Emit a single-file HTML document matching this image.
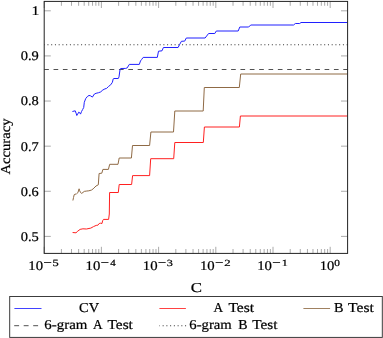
<!DOCTYPE html>
<html><head><meta charset="utf-8"><style>
html,body{margin:0;padding:0;background:#fff;width:383px;height:338px;overflow:hidden}
svg{display:block}
.t{font-family:"Liberation Serif",serif;fill:#000;stroke:#000;stroke-width:0.22px;text-rendering:geometricPrecision}
svg{will-change:transform}
.s{font-size:9.52px}
</style></head><body>
<svg width="383" height="338" viewBox="0 0 383 338">
<clipPath id="c"><rect x="44.2" y="1.4" width="303.40000000000003" height="252.0"/></clipPath>
<line x1="44.2" y1="44.8" x2="347.6" y2="44.8" stroke="#333" stroke-width="1.1" stroke-dasharray="1.0 2.74" stroke-dashoffset="0.5" />
<line x1="44.2" y1="69.5" x2="347.6" y2="69.5" stroke="#333" stroke-width="0.85" stroke-dasharray="4.673 4.673" />
<g clip-path="url(#c)" fill="none" stroke-width="1.0" stroke-linejoin="round">
<polyline points="72.9,200.5 73.5,197.6 74.2,194.7 75.2,194.0 76.1,194.4 77.1,193.4 78.1,192.1 79.1,188.8 79.7,190.8 80.7,192.7 81.7,193.4 83.0,192.4 84.3,191.4 86.2,191.1 88.8,190.8 91.4,190.1 93.1,188.9 96.0,186.0 98.3,184.8 99.1,173.5 101.8,173.2 102.9,169.4 108.4,169.4 109.7,164.3 118.0,164.3 119.2,158.0 131.4,158.0 132.5,145.5 149.6,145.5 150.9,132.0 173.5,132.0 174.8,111.0 203.2,111.0 204.3,87.5 239.3,87.5 240.7,74.0 347.6,74.0" stroke="#8f6a45"/>
<polyline points="72.6,232.5 76.0,232.8 77.8,231.1 80.1,229.4 82.9,228.8 86.4,229.0 90.8,228.1 93.5,226.6 96.2,225.4 97.9,225.2 99.2,223.5 100.6,223.2 102.0,223.5 102.6,220.8 103.5,219.4 108.6,219.4 109.3,214.0 109.6,192.5 118.3,192.5 119.2,184.5 131.6,184.5 132.6,175.6 149.6,175.6 150.7,158.7 173.7,158.7 174.8,142.5 203.3,142.5 204.4,127.0 239.4,127.0 240.4,116.0 347.6,116.0" stroke="#ff2020"/>
<polyline points="72.4,111.5 75.2,110.8 76.1,113.2 76.8,115.5 77.7,114.1 78.7,112.2 79.6,112.5 80.5,114.1 81.5,111.6 82.7,109.4 83.7,107.5 84.3,102.3 85.7,98.6 87.3,96.6 89.0,95.4 90.7,95.9 92.4,97.1 94.4,94.0 96.1,93.3 98.6,92.7 100.7,91.9 102.8,90.0 104.9,88.9 106.6,88.4 108.6,86.4 110.7,84.8 112.4,82.3 113.2,78.9 113.7,78.5 118.3,78.5 119.0,76.9 120.1,69.1 120.8,68.5 125.7,68.4 127.2,67.9 129.3,64.4 139.3,64.4 140.5,60.9 141.7,59.4 143.2,57.4 157.3,57.4 158.5,51.2 162.0,50.8 163.4,47.5 178.1,47.5 179.5,44.7 181.4,41.3 184.7,41.1 186.3,38.0 205.1,38.0 208.6,33.5 214.8,33.5 216.3,31.0 238.2,31.0 239.8,27.0 248.7,27.0 250.7,25.0 293.5,25.0 295.4,23.5 299.7,23.5 301.0,22.5 347.6,22.5" stroke="#2020ff"/>
</g>
<path d="M44.20 253.4v-6.6M44.20 1.4v6.6M61.42 253.4v-4.4M61.42 1.4v4.4M71.49 253.4v-4.4M71.49 1.4v4.4M78.64 253.4v-4.4M78.64 1.4v4.4M84.18 253.4v-4.4M84.18 1.4v4.4M88.71 253.4v-4.4M88.71 1.4v4.4M92.54 253.4v-4.4M92.54 1.4v4.4M95.86 253.4v-4.4M95.86 1.4v4.4M98.78 253.4v-4.4M98.78 1.4v4.4M101.40 253.4v-6.6M101.40 1.4v6.6M118.62 253.4v-4.4M118.62 1.4v4.4M128.69 253.4v-4.4M128.69 1.4v4.4M135.84 253.4v-4.4M135.84 1.4v4.4M141.38 253.4v-4.4M141.38 1.4v4.4M145.91 253.4v-4.4M145.91 1.4v4.4M149.74 253.4v-4.4M149.74 1.4v4.4M153.06 253.4v-4.4M153.06 1.4v4.4M155.98 253.4v-4.4M155.98 1.4v4.4M158.60 253.4v-6.6M158.60 1.4v6.6M175.82 253.4v-4.4M175.82 1.4v4.4M185.89 253.4v-4.4M185.89 1.4v4.4M193.04 253.4v-4.4M193.04 1.4v4.4M198.58 253.4v-4.4M198.58 1.4v4.4M203.11 253.4v-4.4M203.11 1.4v4.4M206.94 253.4v-4.4M206.94 1.4v4.4M210.26 253.4v-4.4M210.26 1.4v4.4M213.18 253.4v-4.4M213.18 1.4v4.4M215.80 253.4v-6.6M215.80 1.4v6.6M233.02 253.4v-4.4M233.02 1.4v4.4M243.09 253.4v-4.4M243.09 1.4v4.4M250.24 253.4v-4.4M250.24 1.4v4.4M255.78 253.4v-4.4M255.78 1.4v4.4M260.31 253.4v-4.4M260.31 1.4v4.4M264.14 253.4v-4.4M264.14 1.4v4.4M267.46 253.4v-4.4M267.46 1.4v4.4M270.38 253.4v-4.4M270.38 1.4v4.4M273.00 253.4v-6.6M273.00 1.4v6.6M290.22 253.4v-4.4M290.22 1.4v4.4M300.29 253.4v-4.4M300.29 1.4v4.4M307.44 253.4v-4.4M307.44 1.4v4.4M312.98 253.4v-4.4M312.98 1.4v4.4M317.51 253.4v-4.4M317.51 1.4v4.4M321.34 253.4v-4.4M321.34 1.4v4.4M324.66 253.4v-4.4M324.66 1.4v4.4M327.58 253.4v-4.4M327.58 1.4v4.4M330.20 253.4v-6.6M330.20 1.4v6.6M44.2 236.40h6.6M347.6 236.40h-6.6M44.2 191.28h6.6M347.6 191.28h-6.6M44.2 146.16h6.6M347.6 146.16h-6.6M44.2 101.04h6.6M347.6 101.04h-6.6M44.2 55.92h6.6M347.6 55.92h-6.6M44.2 10.80h6.6M347.6 10.80h-6.6" stroke="#777" stroke-width="0.62" fill="none"/>
<rect x="44.2" y="1.4" width="303.40000000000003" height="252.0" fill="none" stroke="#222" stroke-width="1.0"/>
<text x="20.75" y="240.85" textLength="18.08" lengthAdjust="spacingAndGlyphs" class="t" style="font-size:13.2px">0.5</text>
<text x="20.76" y="195.73" textLength="17.93" lengthAdjust="spacingAndGlyphs" class="t" style="font-size:13.2px">0.6</text>
<text x="20.76" y="150.61" textLength="17.93" lengthAdjust="spacingAndGlyphs" class="t" style="font-size:13.2px">0.7</text>
<text x="20.75" y="105.49" textLength="18.08" lengthAdjust="spacingAndGlyphs" class="t" style="font-size:13.2px">0.8</text>
<text x="20.75" y="60.37" textLength="18.08" lengthAdjust="spacingAndGlyphs" class="t" style="font-size:13.2px">0.9</text>
<text x="31.46" y="15.25" textLength="7.84" lengthAdjust="spacingAndGlyphs" class="t" style="font-size:13.2px">1</text>
<text x="28.39" y="269.70" textLength="14.74" lengthAdjust="spacingAndGlyphs" class="t" style="font-size:13.2px">10</text>
<text x="52.44" y="266.20" textLength="6.17" lengthAdjust="spacingAndGlyphs" class="t" style="font-size:9.4px">5</text>
<text x="85.59" y="269.70" textLength="14.74" lengthAdjust="spacingAndGlyphs" class="t" style="font-size:13.2px">10</text>
<text x="110.15" y="266.20" textLength="5.46" lengthAdjust="spacingAndGlyphs" class="t" style="font-size:9.4px">4</text>
<text x="142.79" y="269.70" textLength="14.74" lengthAdjust="spacingAndGlyphs" class="t" style="font-size:13.2px">10</text>
<text x="166.84" y="266.20" textLength="6.17" lengthAdjust="spacingAndGlyphs" class="t" style="font-size:9.4px">3</text>
<text x="199.99" y="269.70" textLength="14.74" lengthAdjust="spacingAndGlyphs" class="t" style="font-size:13.2px">10</text>
<text x="224.19" y="266.20" textLength="6.37" lengthAdjust="spacingAndGlyphs" class="t" style="font-size:9.4px">2</text>
<text x="257.19" y="269.70" textLength="14.74" lengthAdjust="spacingAndGlyphs" class="t" style="font-size:13.2px">10</text>
<text x="281.67" y="266.20" textLength="6.06" lengthAdjust="spacingAndGlyphs" class="t" style="font-size:9.4px">1</text>
<text x="319.66" y="269.70" textLength="14.56" lengthAdjust="spacingAndGlyphs" class="t" style="font-size:13.2px">10</text>
<text x="334.35" y="266.20" textLength="5.62" lengthAdjust="spacingAndGlyphs" class="t" style="font-size:9.4px">0</text>
<text x="190.73" y="291.80" textLength="11.25" lengthAdjust="spacingAndGlyphs" class="t" style="font-size:13.6px">C</text>
<text transform="translate(9.80,174.50) rotate(-90)" x="-0.13" y="0" textLength="56.12" lengthAdjust="spacingAndGlyphs" class="t" style="font-size:13.6px">Accuracy</text>
<text x="79.04" y="311.70" textLength="20.01" lengthAdjust="spacingAndGlyphs" class="t" style="font-size:13.6px">CV</text>
<text x="213.38" y="311.70" textLength="9.60" lengthAdjust="spacingAndGlyphs" class="t" style="font-size:13.6px">A</text>
<text x="228.41" y="311.70" textLength="25.69" lengthAdjust="spacingAndGlyphs" class="t" style="font-size:13.6px">Test</text>
<text x="334.11" y="311.70" textLength="9.53" lengthAdjust="spacingAndGlyphs" class="t" style="font-size:13.6px">B</text>
<text x="348.11" y="311.70" textLength="25.69" lengthAdjust="spacingAndGlyphs" class="t" style="font-size:13.6px">Test</text>
<text x="44.31" y="329.10" textLength="43.08" lengthAdjust="spacingAndGlyphs" class="t" style="font-size:13.6px">6-gram</text>
<text x="92.88" y="329.10" textLength="9.60" lengthAdjust="spacingAndGlyphs" class="t" style="font-size:13.6px">A</text>
<text x="107.52" y="329.10" textLength="25.39" lengthAdjust="spacingAndGlyphs" class="t" style="font-size:13.6px">Test</text>
<text x="189.32" y="329.10" textLength="42.46" lengthAdjust="spacingAndGlyphs" class="t" style="font-size:13.6px">6-gram</text>
<text x="238.22" y="329.10" textLength="9.31" lengthAdjust="spacingAndGlyphs" class="t" style="font-size:13.6px">B</text>
<text x="252.22" y="329.10" textLength="25.19" lengthAdjust="spacingAndGlyphs" class="t" style="font-size:13.6px">Test</text>
<line x1="44.00" y1="262.5" x2="51.30" y2="262.5" stroke="#000" stroke-width="0.8"/>
<line x1="101.20" y1="262.5" x2="108.50" y2="262.5" stroke="#000" stroke-width="0.8"/>
<line x1="158.40" y1="262.5" x2="165.70" y2="262.5" stroke="#000" stroke-width="0.8"/>
<line x1="215.60" y1="262.5" x2="222.90" y2="262.5" stroke="#000" stroke-width="0.8"/>
<line x1="272.80" y1="262.5" x2="280.10" y2="262.5" stroke="#000" stroke-width="0.8"/>
<rect x="9.7" y="296.5" width="372.6" height="40.9" fill="none" stroke="#333" stroke-width="0.95"/>
<line x1="14.4" y1="308.5" x2="41.5" y2="308.5" stroke="#2020ff" stroke-width="0.85"/>
<line x1="159.4" y1="308.5" x2="185.9" y2="308.5" stroke="#ff2020" stroke-width="0.85"/>
<line x1="303.4" y1="308.5" x2="330.1" y2="308.5" stroke="#8f6a45" stroke-width="0.85"/>
<line x1="14.2" y1="325.7" x2="41.5" y2="325.7" stroke="#333" stroke-width="0.85" stroke-dasharray="4.9 4.6"/>
<line x1="159.4" y1="325.7" x2="186.6" y2="325.7" stroke="#333" stroke-width="1.1" stroke-dasharray="1.0 2.74" stroke-dashoffset="0.5"/>
</svg>
</body></html>
